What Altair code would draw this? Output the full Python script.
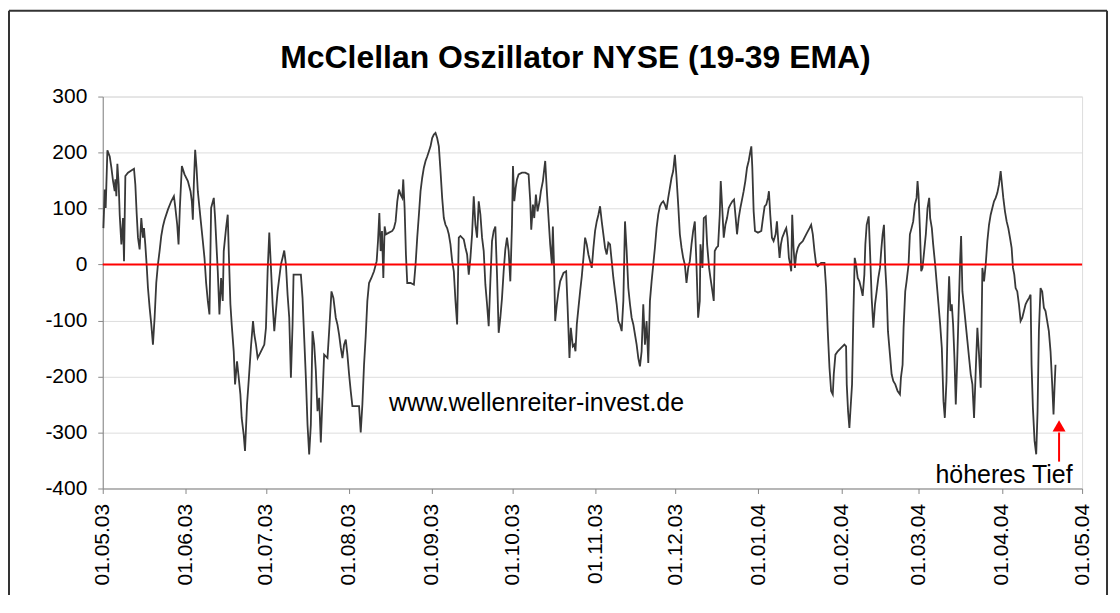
import altair as alt
import pandas as pd

# ---- series: day offsets from 01.05.2003 and oscillator values ----
days_a = [0.25, 0.75, 1.1, 1.74, 2.61, 3.23, 3.85, 4.47, 4.72, 5.09,
          5.47, 5.96, 6.34, 6.96, 7.58, 7.95, 8.45, 9.44, 10.68, 11.68,
          12.18, 12.67, 13.17, 13.79, 14.41, 15.03, 15.41, 15.90, 16.40, 16.90,
          17.52, 18.14, 18.76, 19.38, 20.00, 20.62, 21.24, 21.87, 22.49, 23.11,
          24.35, 25.59, 26.59, 27.08, 27.83, 28.33, 28.82, 29.57, 30.56, 31.81,
          32.80, 33.30, 33.67, 34.04, 34.54, 35.04, 35.53, 36.53, 37.40, 38.02,
          38.64, 39.26, 39.88, 40.50, 41.50, 41.99, 42.99, 43.61, 44.23, 44.85,
          45.22, 46.09, 46.71, 47.09, 47.71, 48.20, 48.95, 49.45, 50.19, 50.69,
          51.44, 51.93, 52.68, 53.17, 53.92, 54.54, 55.41, 56.16, 56.65, 57.27,
          57.90, 59.14, 60.38, 61.00, 61.62, 62.24, 62.87, 63.49, 64.11, 64.73,
          65.35, 65.97, 66.59, 67.21, 67.83, 68.46, 69.08, 69.70, 70.32, 70.94,
          71.31]
osc_a = [65, 134, 101, 204, 193, 173, 149, 131, 152, 122,
         180, 143, 89, 36, 83, 6, 158, 164, 168, 171,
         143, 92, 48, 27, 83, 48, 65, 36, 0, -42,
         -77, -107, -143, -95, -33, 0, 24, 51, 68, 80,
         98, 113, 122, 104, 71, 36, 101, 176, 161, 149,
         131, 113, 80, 143, 205, 173, 131, 83, 42, 12,
         -33, -65, -89, 101, 119, 83, -12, -89, -24, -65,
         24, 65, 89, 24, -71, -107, -155, -214, -173, -196,
         -232, -274, -304, -333, -250, -208, -146, -101, -125, -143,
         -167, -155, -143, -113, -12, 57, -6, -71, -119, -83,
         -48, -24, 0, 12, 25, 0, -54, -95, -202, -107,
         -18]

days_b = [74.05, 74.67, 75.29, 75.91, 76.53, 77.15, 77.77, 78.39, 79.02, 79.64,
          80.26, 80.88, 81.50, 82.12, 82.74, 83.99, 84.61, 85.48, 86.22, 87.09,
          87.71, 88.33, 88.96, 89.58, 90.20, 90.82, 91.44, 92.06, 92.68, 93.30,
          95.79, 96.41, 97.03, 97.65, 98.27, 98.89, 99.52, 100.39, 101.38, 102.37,
          102.87, 103.37, 103.86, 104.36, 104.86, 105.35, 105.85, 106.97, 108.21, 108.83,
          109.45, 110.08, 110.70, 111.32, 111.94, 112.31, 112.81, 113.31, 113.80, 115.05,
          116.29, 116.91, 117.53, 118.15, 118.77, 119.39, 120.01, 120.64, 121.26, 121.88,
          122.50, 123.12, 123.74, 124.36, 124.98, 125.61, 126.23, 126.85, 127.47, 128.09,
          128.71, 129.33, 129.95, 130.58, 131.20, 131.82, 132.44, 133.06, 133.68, 134.92,
          135.55, 136.17, 136.79, 137.41, 138.03, 138.65, 139.27, 139.89, 140.51, 141.14,
          141.76, 142.38, 143.00, 143.62, 144.24, 144.86, 145.48, 146.11, 146.73, 147.35,
          147.97, 148.59, 149.21]
osc_b = [-18, -60, -131, -202, -286, -339, -286, -119, -143, -190,
         -262, -238, -318, -238, -161, -167, -119, -48, -60, -95,
         -107, -125, -149, -167, -143, -134, -161, -196, -226, -253,
         -253, -300, -250, -179, -128, -65, -33, -24, -12, 6,
         42, 92, 24, 60, -24, 68, 54, 57, 60, 65,
         77, 113, 134, 125, 119, 152, 101, 18, -33, -33,
         -36, 0, 48, 89, 131, 155, 173, 185, 193, 202,
         211, 226, 232, 235, 226, 211, 167, 119, 83, 71,
         65, 54, 36, 6, -12, -65, -107, 48, 51, 45,
         30, 18, -18, 12, 54, 122, 71, 48, 113, 89,
         48, 24, -36, -71, -110, -30, 42, 60, 68, -18,
         -122, -95, -60]

days_c = [149.83, 150.45, 151.08, 151.70, 152.32, 152.94, 153.31, 153.81, 154.31, 154.80,
          155.42, 156.67, 157.91, 159.15, 159.77, 160.14, 160.77, 161.26, 161.88, 162.50,
          163.25, 163.75, 164.49, 164.99, 165.36, 165.98, 166.60, 167.22, 167.85, 168.22,
          168.72, 169.09, 169.71, 170.33, 170.95, 172.20, 173.19, 173.69, 174.43, 174.93,
          175.67, 176.17, 176.67, 177.17, 177.79, 178.41, 179.03, 179.65, 180.27, 180.89,
          181.51, 182.13, 182.76, 183.38, 184.00, 184.62, 185.24, 185.86, 186.48, 187.10,
          187.72, 188.35, 188.97, 189.59, 190.21, 190.83, 191.45, 192.07, 192.70, 193.32,
          193.94, 194.56, 195.18, 195.80, 196.42, 197.04, 197.66, 198.29, 198.91, 199.53,
          200.15, 200.77, 201.39, 202.01, 202.63, 203.25, 203.88, 204.50, 205.12, 205.74,
          206.36, 206.98, 207.60, 208.22, 208.85, 209.47, 210.09, 210.71, 211.33, 211.95,
          212.57, 213.19, 213.82, 214.44, 215.06, 215.68, 216.30, 216.92, 217.54, 218.16,
          218.79, 219.41, 220.03, 220.65]
osc_c = [-12, 27, 48, 24, -30, 71, 176, 113, 137, 152,
         161, 164, 164, 161, 113, 62, 107, 83, 125, 95,
         113, 131, 149, 170, 185, 131, 83, 36, 0, 68,
         -12, -101, -71, -48, -30, -15, -12, -71, -167, -113,
         -146, -143, -155, -107, -77, -48, -21, 12, 48, 36,
         18, 6, -6, 30, 60, 77, 89, 104, 77, 54,
         30, 18, 39, 36, 6, -24, -48, -71, -101, -107,
         -119, -65, 77, 24, -42, -71, -95, -107, -125, -143,
         -167, -182, -155, -71, -143, -101, -176, -65, -30, 0,
         30, 65, 89, 104, 110, 113, 107, 98, 119, 137,
         155, 167, 196, 155, 107, 54, 30, 12, 0, -33,
         -6, 6, 36, 60]

days_d = [221.27, 221.89, 222.51, 223.13, 223.38, 224.13, 224.62, 225.37, 225.87, 226.61,
          227.11, 227.85, 228.35, 228.72, 229.34, 229.97, 230.59, 230.96, 231.58, 232.08,
          232.70, 233.32, 233.94, 234.56, 235.31, 235.93, 236.55, 237.05, 237.67, 238.29,
          239.04, 239.53, 240.15, 240.78, 241.40, 242.02, 242.39, 242.76, 243.26, 243.76,
          244.87, 246.12, 246.74, 247.36, 247.98, 248.60, 248.97, 249.47, 250.09, 250.71,
          251.46, 251.96, 252.45, 252.95, 253.45, 253.94, 254.44, 254.94, 255.44, 255.93,
          256.43, 256.93, 257.30, 257.67, 258.17, 258.67, 259.16, 259.78, 260.41, 261.65,
          262.89, 264.13, 264.75, 265.37, 265.99, 266.62, 267.24, 268.48, 269.72, 270.34,
          270.96, 271.59, 272.21, 272.83, 273.20, 273.82, 274.69, 275.93, 277.18, 277.80,
          278.05, 278.54, 279.04, 279.41, 280.03, 280.53, 281.03, 281.52, 282.15, 282.77,
          283.39, 284.01, 284.63, 285.00, 285.50, 286.25, 286.75, 287.37, 287.99, 288.61,
          289.23, 289.85, 290.47, 290.97, 291.46, 291.96, 292.46, 292.96, 293.45, 294.20,
          294.82, 295.44, 296.19, 297.06, 297.93]
osc_d = [77, 0, -95, -65, 36, -6, 83, 86, 36, -6,
         -24, -48, -65, 24, 30, 33, 89, 149, 95, 48,
         71, 83, 101, 107, 113, 116, 83, 54, 83, 101,
         119, 131, 149, 173, 185, 202, 211, 173, 95, 60,
         57, 60, 83, 104, 107, 119, 131, 89, 48, 42,
         54, 77, 42, 12, 36, 48, 54, 60, 65, 48,
         12, 0, -12, 89, 30, -6, 18, 30, 36, 42,
         54, 65, 71, 54, 24, 0, -3, 3, 3, -42,
         -119, -184, -226, -232, -196, -161, -155, -149, -143, -146,
         -214, -262, -292, -262, -214, -89, 12, 0, -24, -30,
         -42, -56, -18, 36, 71, 86, 24, -60, -113, -71,
         -48, -24, -6, 27, 54, 71, -6, -48, -119, -161,
         -196, -208, -214, -226, -232]

days_e = [298.30, 298.92, 299.29, 299.91, 300.41, 301.15, 301.65, 302.27, 302.89, 303.52,
          304.14, 304.51, 304.88, 305.38, 305.88, 306.37, 306.99, 307.61, 308.24, 308.86,
          309.23, 309.85, 310.35, 311.09, 311.72, 312.34, 312.96, 313.58, 314.20, 314.70,
          315.32, 315.82, 316.31, 316.81, 317.31, 317.80, 318.30, 318.80, 319.29, 319.79,
          320.41, 320.79, 321.28, 321.90, 322.52, 323.15, 323.77, 324.39, 325.01, 325.63,
          326.25, 326.87, 327.49, 328.12, 328.74, 329.36, 329.98, 330.60, 331.22, 331.84,
          332.46, 333.09, 333.71, 334.33, 334.95, 335.57, 335.94, 336.56, 337.18, 337.81,
          338.43, 339.05, 339.67, 340.17, 340.66, 341.16, 341.78, 342.40, 343.02, 343.65,
          344.27, 344.89, 345.51, 346.13, 346.75, 347.12, 347.62, 348.24, 348.86, 349.36,
          349.86, 350.48, 351.10, 351.72, 352.34, 352.96, 353.58, 354.21, 354.83, 355.33,
          355.70, 356.07]
osc_e = [-202, -179, -113, -48, -30, 0, 54, 65, 77, 107,
         119, 149, 125, 65, -12, -6, 24, 54, 101, 119,
         83, 65, 36, 0, -36, -71, -107, -149, -244, -274,
         -208, -89, -21, -83, -71, -107, -167, -250, -179, -95,
         6, 51, -48, -77, -107, -137, -167, -196, -214, -274,
         -190, -113, -161, -220, -6, -30, 0, 42, 71, 89,
         101, 113, 119, 128, 143, 167, 149, 119, 95, 77,
         65, 48, 30, -6, -18, -42, -48, -71, -101, -95,
         -83, -71, -65, -60, -54, -179, -256, -315, -339, -262,
         -119, -42, -48, -77, -83, -101, -119, -155, -214, -268,
         -220, -179]

# ---- axis ticks (first day of each month) ----
tick_years = [2003] * 8 + [2004] * 5
tick_months = [5, 6, 7, 8, 9, 10, 11, 12, 1, 2, 3, 4, 5]
y_ticks = [-400, -300, -200, -100, 0, 100, 200, 300]

# ---- annotations ----
label_days = [107.0, 311.2]
label_values = [-262, -390]
label_texts = ["www.wellenreiter-invest.de", "höheres Tief"]
arrow_day = [357.4]
arrow_tail = [-352]
arrow_base = [-300]
arrow_head = [-288]
zero_line = [0]

TITLE = "McClellan Oszillator NYSE (19-39 EMA)"
FONT = "Liberation Sans"

start = pd.Timestamp("2003-05-01")
segs = [(days_a, osc_a), (days_b, osc_b), (days_c, osc_c), (days_d, osc_d), (days_e, osc_e)]
all_days, all_vals = [], []
for d, v in segs:
    assert len(d) == len(v)
    all_days += d
    all_vals += v

df = pd.DataFrame({"date": start + pd.to_timedelta(all_days, unit="D"), "osc": all_vals})
labels_df = pd.DataFrame({"date": start + pd.to_timedelta(label_days, unit="D"),
                          "v": label_values, "t": label_texts})
arrow_df = pd.DataFrame({"date": start + pd.to_timedelta(arrow_day, unit="D"),
                         "y1": arrow_tail, "y2": arrow_base, "yh": arrow_head})
zero_df = pd.DataFrame({"v": zero_line})
frame_df = pd.DataFrame({"k": [0]})

tick_values = [alt.DateTime(year=y, month=m, date=1) for y, m in zip(tick_years, tick_months)]
x_scale = alt.Scale(domain=[tick_values[0], tick_values[-1]], nice=False)
y_scale = alt.Scale(domain=[-400, 300], nice=False)

x_enc = alt.X("date:T", scale=x_scale, title=None,
              axis=alt.Axis(values=tick_values, format="%d.%m.%y", labelAngle=270,
                            grid=False, labelPadding=10, labelFontSize=21))
y_enc = alt.Y("osc:Q", scale=y_scale, title=None,
              axis=alt.Axis(values=y_ticks, grid=True, labelPadding=11, labelFontSize=21,
                            labelExpr="'' + datum.value"))

line = alt.Chart(df).mark_line(color="#383838", strokeWidth=1.8).encode(x=x_enc, y=y_enc)

zero = alt.Chart(zero_df).mark_rule(color="#ff0000", strokeWidth=2).encode(
    y=alt.Y("v:Q", scale=y_scale))

texts = alt.Chart(labels_df).mark_text(align="left", baseline="alphabetic", fontSize=25,
                                       font=FONT, color="black").encode(
    x=alt.X("date:T", scale=x_scale), y=alt.Y("v:Q", scale=y_scale), text="t:N")

shaft = alt.Chart(arrow_df).mark_rule(color="#ff0000", strokeWidth=2).encode(
    x=alt.X("date:T", scale=x_scale), y=alt.Y("y1:Q", scale=y_scale), y2="y2:Q")
head = alt.Chart(arrow_df).mark_point(shape="triangle-up", filled=True, color="#ff0000",
                                      opacity=1, size=170).encode(
    x=alt.X("date:T", scale=x_scale), y=alt.Y("yh:Q", scale=y_scale))

frame_style = dict(color="#333333", strokeWidth=2)
frame_top = alt.Chart(frame_df).mark_rule(**frame_style).encode(
    x=alt.value(-94), x2=alt.value(1007), y=alt.value(-86))
frame_left = alt.Chart(frame_df).mark_rule(**frame_style).encode(
    x=alt.value(-94), y=alt.value(-86), y2=alt.value(600))
frame_right = alt.Chart(frame_df).mark_rule(**frame_style).encode(
    x=alt.value(1007), y=alt.value(-86), y2=alt.value(600))

chart = alt.layer(line, zero, texts, shaft, head, frame_top, frame_left, frame_right).properties(
    width=982, height=393,
    autosize=alt.AutoSizeParams(type="none"),
    padding={"left": 95, "top": 88, "right": 30, "bottom": 106},
    title=alt.TitleParams(TITLE, font=FONT, fontSize=32, fontWeight="bold", color="black",
                          anchor="middle", frame="group", baseline="alphabetic",
                          offset=23, dx=-17, dy=113),
).configure_view(
    stroke="#8c8c8c", strokeWidth=2
).configure_axis(
    labelFont=FONT, labelColor="black", domainColor="black", domainWidth=2,
    tickColor="black", tickWidth=2, tickSize=6, gridColor="#c4c4c4", gridWidth=1.5
).configure(background="white")

chart.save("out.html", embed_options={"renderer": "svg", "actions": False})
